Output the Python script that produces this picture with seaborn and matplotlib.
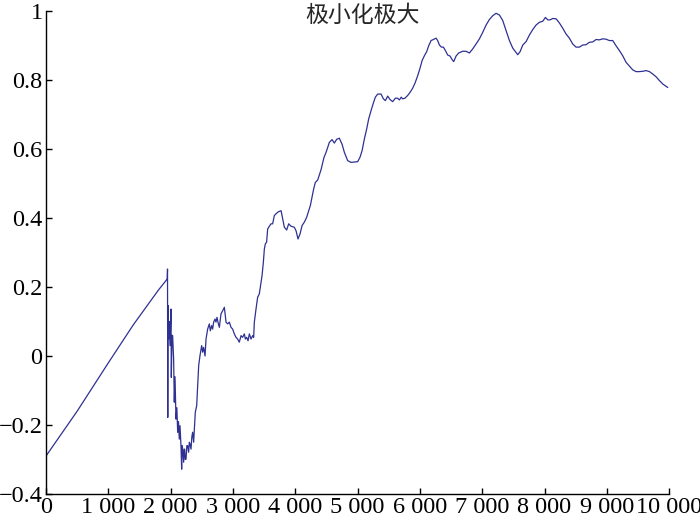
import numpy as np
import pandas as pd
import matplotlib
matplotlib.use('Agg')
import matplotlib.pyplot as plt
import seaborn as sns

# values
iters = [0, 250, 500, 750, 1000, 1200, 1400, 1600, 1800, 1945, 1950, 1954, 1958, 1968, 1979, 1990,
         2006, 2011, 2022, 2032, 2048, 2059, 2070, 2086, 2100, 2113, 2126, 2139, 2150, 2166, 2177,
         2185, 2193, 2209, 2217, 2225, 2235, 2247, 2260, 2273, 2289, 2300, 2311, 2327, 2340, 2353,
         2369, 2396, 2418, 2450, 2471, 2498, 2514, 2530, 2552, 2568, 2594, 2621, 2637, 2658, 2674,
         2690, 2712, 2728, 2744, 2766, 2782, 2808, 2835, 2862, 2889, 2915, 2942, 2969, 2995, 3022,
         3049, 3075, 3102, 3130, 3155, 3183, 3199, 3220, 3242, 3263, 3290, 3316, 3332, 3343, 3370,
         3396, 3423, 3467, 3488, 3504, 3520, 3540, 3557, 3584, 3611, 3637, 3664, 3691, 3730, 3772,
         3798, 3825, 3862, 3894, 3932, 3985, 4012, 4044, 4077, 4109, 4146, 4183, 4215, 4242, 4269,
         4295, 4322, 4360, 4414, 4460, 4494, 4547, 4590, 4627, 4665, 4707, 4750, 4788, 4841, 4895,
         4950, 5001, 5039, 5072, 5109, 5146, 5178, 5216, 5253, 5285, 5323, 5377, 5414, 5446, 5483,
         5521, 5563, 5606, 5640, 5671, 5700, 5723, 5760, 5804, 5842, 5884, 5922, 5964, 6002, 6035,
         6072, 6109, 6141, 6179, 6216, 6259, 6285, 6313, 6345, 6377, 6409, 6446, 6484, 6516, 6542,
         6580, 6622, 6687, 6740, 6794, 6848, 6901, 6955, 7008, 7062, 7115, 7169, 7222, 7276, 7329,
         7383, 7436, 7490, 7533, 7570, 7608, 7650, 7704, 7757, 7811, 7864, 7918, 7971, 8014, 8051,
         8090, 8131, 8185, 8238, 8291, 8345, 8398, 8452, 8505, 8559, 8612, 8666, 8719, 8773, 8826,
         8880, 8933, 8987, 9040, 9094, 9147, 9201, 9254, 9308, 9361, 9415, 9468, 9522, 9576, 9630,
         9683, 9736, 9790, 9843, 9897, 9977]
vals = [-0.29, -0.225, -0.16, -0.09, -0.02, 0.035, 0.09, 0.14, 0.19, 0.223, 0.252, -0.178, 0.146, 0.05, 0.10, 0.03,
        0.136, -0.062, 0.06, 0.059, -0.009, -0.134, -0.06, -0.183, -0.15, -0.221, -0.19, -0.241, -0.202, -0.26, -0.328,
        -0.26, -0.27, -0.308, -0.27, -0.27, -0.30, -0.299, -0.26, -0.26, -0.279, -0.25, -0.255, -0.27, -0.235, -0.221,
        -0.25, -0.163, -0.144, -0.028, 0.001, 0.03, 0.011, 0.025, 0.0, 0.049, 0.078, 0.093, 0.073, 0.088, 0.078,
        0.098, 0.107, 0.098, 0.112, 0.093, 0.083, 0.122, 0.131, 0.141, 0.098, 0.093, 0.098, 0.083, 0.078, 0.064,
        0.054, 0.049, 0.04, 0.059, 0.054, 0.064, 0.049, 0.054, 0.044, 0.064, 0.049, 0.059, 0.054, 0.098, 0.136,
        0.17, 0.18, 0.233, 0.272, 0.31, 0.325, 0.33, 0.368, 0.376, 0.383, 0.383, 0.407, 0.412, 0.418, 0.421,
        0.397, 0.373, 0.365, 0.383, 0.376, 0.373, 0.363, 0.339, 0.354, 0.378, 0.388, 0.402, 0.421, 0.436, 0.46,
        0.484, 0.503, 0.51, 0.54, 0.575, 0.59, 0.619, 0.627, 0.617, 0.628, 0.631, 0.614, 0.59, 0.566, 0.561,
        0.562, 0.563, 0.576, 0.595, 0.629, 0.658, 0.687, 0.711, 0.733, 0.75, 0.759, 0.759, 0.745, 0.74, 0.753,
        0.743, 0.737, 0.747, 0.747, 0.742, 0.75, 0.745, 0.747, 0.755, 0.764, 0.776, 0.791, 0.812, 0.834, 0.856,
        0.87, 0.882, 0.899, 0.914, 0.917, 0.921, 0.914, 0.901, 0.895, 0.895, 0.885, 0.872, 0.869, 0.859, 0.853,
        0.869, 0.878, 0.883, 0.883, 0.878, 0.89, 0.904, 0.919, 0.938, 0.959, 0.975, 0.986, 0.993, 0.988, 0.972,
        0.943, 0.914, 0.892, 0.882, 0.873, 0.882, 0.901, 0.911, 0.93, 0.946, 0.959, 0.967, 0.97, 0.981, 0.974,
        0.974, 0.978, 0.977, 0.965, 0.95, 0.933, 0.921, 0.904, 0.895, 0.895, 0.901, 0.902, 0.909, 0.91, 0.917,
        0.916, 0.919, 0.918, 0.914, 0.914, 0.899, 0.885, 0.87, 0.851, 0.84, 0.829, 0.824, 0.824, 0.825, 0.827,
        0.824, 0.817, 0.809, 0.798, 0.788, 0.778]

title = '极小化极大'
xticks = [0, 1000, 2000, 3000, 4000, 5000, 6000, 7000, 8000, 9000, 10000]
xlabels = ['0', '1 000', '2 000', '3 000', '4 000', '5 000', '6 000', '7 000', '8 000', '9 000', '10 000']
yticks = [-0.4, -0.2, 0, 0.2, 0.4, 0.6, 0.8, 1.0]
ylabels = ['\u22120.4', '\u22120.2', '0', '0.2', '0.4', '0.6', '0.8', '1']

df = pd.DataFrame({'iter': iters, 'val': vals})

sns.set_style('ticks')
plt.rcParams['font.family'] = ['Liberation Serif', 'DejaVu Serif']

fig = plt.figure(figsize=(7, 5.18), dpi=100)
ax = fig.add_axes([0.0657, 0.0463, 0.8903, 0.9327])

# estimator=None + sort=False so the vertical spike near 1950 stays as drawn
sns.lineplot(data=df, x='iter', y='val', estimator=None, sort=False,
             color='#2E3192', linewidth=0.9, ax=ax)

ax.set_xlim(0, 10000)
ax.set_ylim(-0.4, 1.0)
ax.set_xticks(xticks, labels=xlabels, fontsize=17.5, fontfamily='Liberation Serif')
ax.set_yticks(yticks, labels=ylabels, fontsize=17.5, fontfamily='Liberation Serif')
ax.set_xlabel('')
ax.set_ylabel('')
ax.tick_params(direction='in', length=4.5, width=1, colors='black')
ax.tick_params(axis='x', pad=2)
ax.tick_params(axis='y', pad=2.5)
sns.despine(ax=ax)
for s in ['left', 'bottom']:
    ax.spines[s].set_linewidth(1.0)
    ax.spines[s].set_color('black')

fig.text(362 / 700, 1 - 15 / 518, title, ha='center', va='center', fontsize=16.5,
         family=['Noto Sans CJK SC', 'DejaVu Sans'])

fig.savefig('out.png', dpi=100)
